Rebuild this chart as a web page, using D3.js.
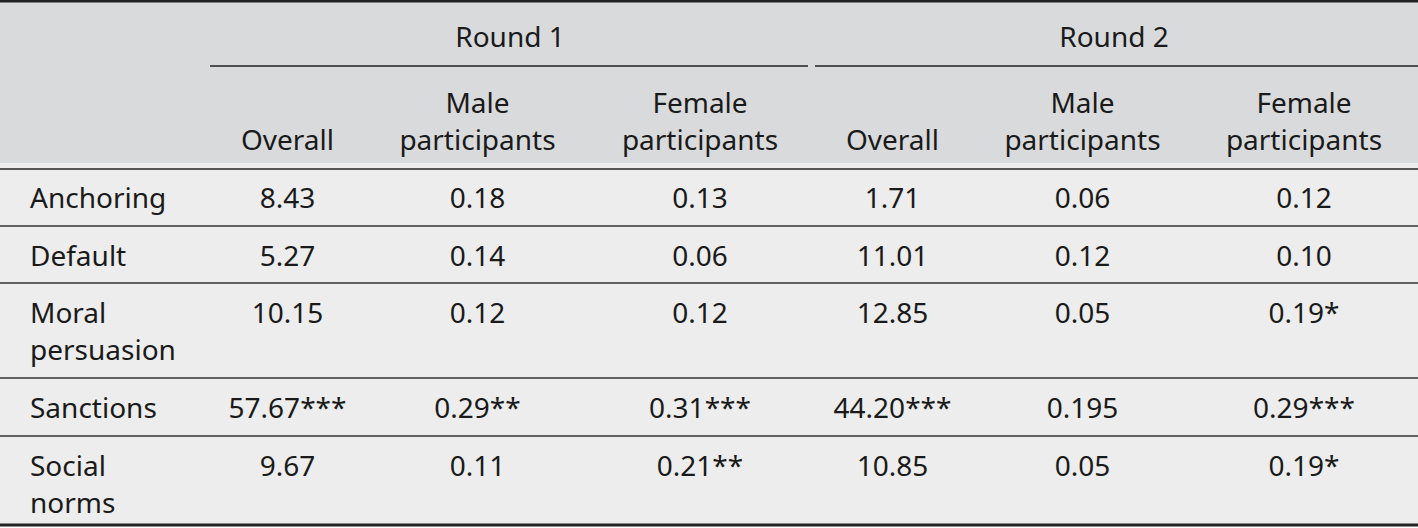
<!DOCTYPE html>
<html>
<head>
<meta charset="utf-8">
<script src="https://cdn.jsdelivr.net/npm/d3@7"></script>
<style>
  html, body { margin: 0; padding: 0; background: #fff; }
  svg text { font-family: "Noto Sans", sans-serif; font-size: 28px; fill: #1a1a1a; }
</style>
</head>
<body>
<svg id="tbl" width="1418" height="528"></svg>
<script>
// table content
var rounds = ["Round 1", "Round 2"];
var subHeaders = [["Overall"], ["Male", "participants"], ["Female", "participants"]];
var treatments = [["Anchoring"], ["Default"], ["Moral", "persuasion"], ["Sanctions"], ["Social", "norms"]];
var round1Overall = ["8.43", "5.27", "10.15", "57.67***", "9.67"];
var round1Male    = ["0.18", "0.14", "0.12", "0.29**", "0.11"];
var round1Female  = ["0.13", "0.06", "0.12", "0.31***", "0.21**"];
var round2Overall = ["1.71", "11.01", "12.85", "44.20***", "10.85"];
var round2Male    = ["0.06", "0.12", "0.05", "0.195", "0.05"];
var round2Female  = ["0.12", "0.10", "0.19*", "0.29***", "0.19*"];

// layout
var colWidths = [210, 155, 225, 220, 165, 215, 228];
var rowHeights = [58, 57, 95, 58, 89];
var headTop = 66, headBottom = 168, lineH = 37;

var svg = d3.select("#tbl");
var colEdges = [0].concat(Array.from(d3.cumsum(colWidths)));
var rowEdges = [headBottom].concat(Array.from(d3.cumsum(rowHeights), function(d) { return d + headBottom; }));

var colKeys = d3.range(colWidths.length);
var xCenter = d3.scaleOrdinal().domain(colKeys)
  .range(colKeys.map(function(i) { return (colEdges[i] + colEdges[i + 1]) / 2; }));
var yTop = d3.scaleOrdinal().domain(d3.range(treatments.length)).range(rowEdges.slice(0, -1));

var columns = [round1Overall, round1Male, round1Female, round2Overall, round2Male, round2Female];

// backgrounds
svg.append("rect").attr("x", 0).attr("y", 0).attr("width", 1418).attr("height", 163).attr("fill", "#d9dadc");
svg.append("rect").attr("x", 0).attr("y", 163).attr("width", 1418).attr("height", rowEdges[rowEdges.length - 1] - 163).attr("fill", "#ecedec");

// rules
svg.append("line").attr("x1", 0).attr("x2", 1418).attr("y1", 1.2).attr("y2", 1.2).attr("stroke", "#222").attr("stroke-width", 2.5);
svg.append("line").attr("x1", 0).attr("x2", 1418).attr("y1", headBottom + 1).attr("y2", headBottom + 1).attr("stroke", "#555").attr("stroke-width", 2);
rowEdges.slice(1, -1).forEach(function(y) {
  svg.append("line").attr("x1", 0).attr("x2", 1418).attr("y1", y).attr("y2", y).attr("stroke", "#333").attr("stroke-width", 1.5);
});
var yEnd = rowEdges[rowEdges.length - 1];
svg.append("line").attr("x1", 0).attr("x2", 1418).attr("y1", yEnd).attr("y2", yEnd).attr("stroke", "#222").attr("stroke-width", 3);

// round spanners
rounds.forEach(function(r, i) {
  var x0 = colEdges[1 + i * 3], x1 = colEdges[4 + i * 3];
  svg.append("text").attr("x", (x0 + x1) / 2).attr("y", 47).attr("text-anchor", "middle").text(r);
  svg.append("line").attr("x1", x0 + (i ? 5 : 0)).attr("x2", x1 - (i ? 0 : 2)).attr("y1", headTop).attr("y2", headTop)
    .attr("stroke", "#222").attr("stroke-width", 1.5);
});

// sub headers (bottom aligned)
rounds.forEach(function(r, i) {
  subHeaders.forEach(function(lines, j) {
    var col = 1 + i * 3 + j;
    lines.forEach(function(t, k) {
      svg.append("text").attr("x", xCenter(col))
        .attr("y", 150 - (lines.length - 1 - k) * lineH)
        .attr("text-anchor", "middle").text(t);
    });
  });
});

// body rows
treatments.forEach(function(lines, r) {
  lines.forEach(function(t, k) {
    svg.append("text").attr("x", 30).attr("y", yTop(r) + 40 + k * lineH).text(t);
  });
  columns.forEach(function(vals, c) {
    svg.append("text").attr("x", xCenter(c + 1)).attr("y", yTop(r) + 40)
      .attr("text-anchor", "middle").text(vals[r]);
  });
});
</script>
</body>
</html>
